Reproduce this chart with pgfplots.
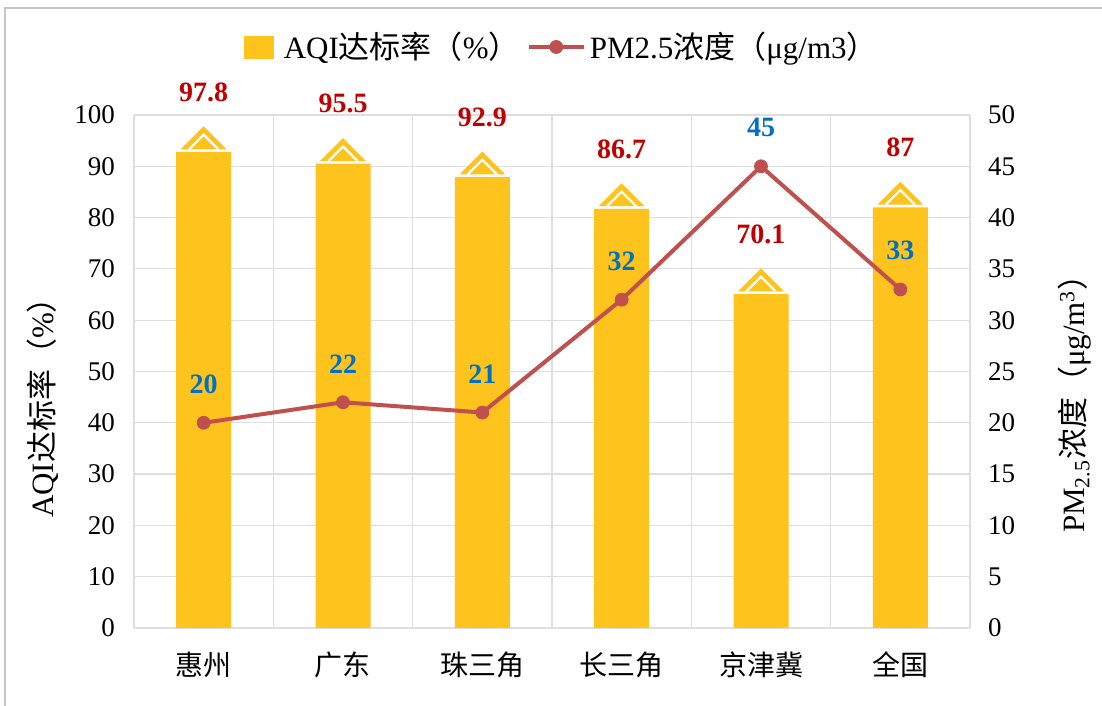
\documentclass[border=0pt]{standalone}
\usepackage{fontspec}
\setmainfont{Liberation Serif}
\newfontfamily\cjk{Noto Sans CJK SC}
\usepackage{pgfplots}
\usepackage{pgfplotstable}
\pgfplotsset{compat=1.18}

\definecolor{baryel}{RGB}{255,195,30}
\definecolor{linered}{RGB}{192,80,77}
\definecolor{valred}{RGB}{192,0,0}
\definecolor{valblue}{RGB}{0,112,192}
\definecolor{gridgray}{RGB}{222,222,222}

\newcommand\fs{\fontsize{13.5}{16}\selectfont}
\newcommand\fl{\fontsize{15.5}{18}\selectfont}

\pgfplotsset{
  long line legend/.style={legend image code/.code={%
    \draw[mark repeat=2, mark phase=2, ##1]
      plot coordinates {(0pt,0pt) (13.75pt,0pt) (27.5pt,0pt)};}},
}

% roof on top of each bar, apex at the data value
\pgfdeclareplotmark{roof}{%
  \pgfpathmoveto{\pgfpoint{0pt}{0pt}}%
  \pgfpathlineto{\pgfpoint{11.5pt}{-11.5pt}}%
  \pgfpathlineto{\pgfpoint{-11.5pt}{-11.5pt}}%
  \pgfpathclose
  \pgfusepath{fill}%
  \pgfsetstrokecolor{white}%
  \pgfsetlinewidth{1.1pt}%
  \pgfpathmoveto{\pgfpoint{-7.3pt}{-11.5pt}}%
  \pgfpathlineto{\pgfpoint{0pt}{-4.2pt}}%
  \pgfpathlineto{\pgfpoint{7.3pt}{-11.5pt}}%
  \pgfusepath{stroke}%
}

\pgfplotstableread{
x aqi pm
0 97.8 20
1 95.5 22
2 92.9 21
3 86.7 32
4 70.1 45
5 87 33
}\datatable

\begin{document}
\begin{tikzpicture}
\useasboundingbox (0,0) rectangle (551pt,353pt);
\draw[gray!45, line width=0.8pt] (2.5pt,0) -- (2.5pt,349pt) -- (551pt,349pt);

\begin{axis}[
  at={(67pt,39pt)}, anchor=south west,
  scale only axis, width=418pt, height=256.5pt,
  xmin=-0.5, xmax=5.5, ymin=0, ymax=100,
  xtick={0,...,5},
  xticklabels={{\cjk 惠州},{\cjk 广东},{\cjk 珠三角},{\cjk 长三角},{\cjk 京津冀},{\cjk 全国}},
  minor xtick={-0.5,0.5,1.5,2.5,3.5,4.5,5.5},
  xminorgrids, ymajorgrids,
  grid style={gridgray, line width=0.6pt},
  minor grid style={gridgray, line width=0.6pt},
  ytick distance=10,
  axis x line*=bottom, axis y line*=left,
  axis line style={draw=none},
  major tick length=0pt, minor tick length=0pt,
  tick label style={font=\fs},
  xticklabel style={font=\fontsize{14}{16}\selectfont, anchor=center, yshift=-18.5pt},
  yticklabel style={xshift=-6pt},
  /pgf/number format/assume math mode=true,
  clip=false,
]
\addplot[ybar, bar width=27.5pt, fill=baryel, draw=none]
  table[x=x, y expr=\thisrow{aqi}-5] {\datatable};
\addplot[only marks, mark=roof, mark options={fill=baryel, draw=none},
  nodes near coords,
  every node near coord/.append style={font=\bfseries\fontsize{14}{16}\selectfont,
    text=valred, anchor=south, yshift=8.5pt}]
  table[x=x, y=aqi] {\datatable};
\end{axis}

\begin{axis}[
  at={(67pt,39pt)}, anchor=south west,
  scale only axis, width=418pt, height=256.5pt,
  xmin=-0.5, xmax=5.5, ymin=0, ymax=50,
  hide x axis,
  axis y line*=right,
  axis line style={draw=none},
  ytick distance=5,
  major tick length=0pt,
  tick label style={font=\fs},
  yticklabel style={xshift=5.5pt},
  /pgf/number format/assume math mode=true,
  clip=false,
  legend style={at={(0.513,1.1326)}, anchor=center, legend columns=2,
    draw=none, fill=none, font=\fl,
    /tikz/every even column/.append style={column sep=1.5pt}},
]
\addlegendimage{legend image code/.code={%
  \path (0pt,0pt); \fill[baryel] (0pt,-5.5pt) rectangle (14.5pt,5.5pt); \path (17.5pt,0pt);}}
\addlegendentry{AQI{\cjk 达标率（}\%{\cjk ）}}
\addplot[linered, line width=2pt, mark=*, mark size=3.2pt,
  mark options={fill=linered, draw=linered, line width=0.5pt},
  long line legend,
  nodes near coords,
  every node near coord/.append style={font=\bfseries\fontsize{14}{16}\selectfont,
    text=valblue, anchor=south, yshift=11pt}]
  table[x=x, y=pm] {\datatable};
\addlegendentry{PM2.5{\cjk 浓度（}μg/m3{\cjk ）}}
\end{axis}

\node[rotate=90, font=\fl] at (21.5pt,153pt) {AQI{\cjk 达标率（}\%{\cjk ）}};
\node[rotate=90, font=\fl] at (537.5pt,155pt)
  {PM\textsubscript{2.5}{\cjk 浓度（}μg/m\textsuperscript{3}{\cjk ）}};
\end{tikzpicture}
\end{document}
